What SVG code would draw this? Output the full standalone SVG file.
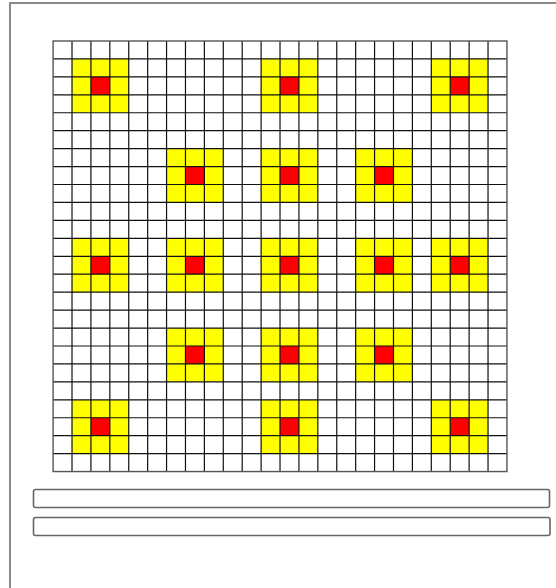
<svg xmlns="http://www.w3.org/2000/svg" xmlns:xlink="http://www.w3.org/1999/xlink" width="556" height="588" viewBox="0 0 556 588">
<style>
.frame{fill:#ffffff;stroke:#8a8a8a;stroke-width:2}
.bar{fill:#ffffff;stroke:#666666;stroke-width:1.6}
.yel{fill:#ffff00}
.red{fill:#ff0000}
.grid{fill:none;stroke:#111111;stroke-width:1.2}
.gborder{fill:none;stroke:#555555;stroke-width:1.4}
</style>
<defs>
<g id="patch">
<rect class="yel" x="0" y="0" width="56.73" height="53.82"/>
<rect class="red" x="18.91" y="17.94" width="18.91" height="17.94"/>
</g>
</defs>
<rect x="0" y="0" width="556" height="588" fill="#ffffff"/>
<rect class="frame" x="10" y="3" width="560" height="600"/>
<g id="patches">
<use xlink:href="#patch" x="72.01" y="58.94"/>
<use xlink:href="#patch" x="261.11" y="58.94"/>
<use xlink:href="#patch" x="431.30" y="58.94"/>
<use xlink:href="#patch" x="166.56" y="148.64"/>
<use xlink:href="#patch" x="261.11" y="148.64"/>
<use xlink:href="#patch" x="355.66" y="148.64"/>
<use xlink:href="#patch" x="72.01" y="238.34"/>
<use xlink:href="#patch" x="166.56" y="238.34"/>
<use xlink:href="#patch" x="261.11" y="238.34"/>
<use xlink:href="#patch" x="355.66" y="238.34"/>
<use xlink:href="#patch" x="431.30" y="238.34"/>
<use xlink:href="#patch" x="166.56" y="328.04"/>
<use xlink:href="#patch" x="261.11" y="328.04"/>
<use xlink:href="#patch" x="355.66" y="328.04"/>
<use xlink:href="#patch" x="72.01" y="399.80"/>
<use xlink:href="#patch" x="261.11" y="399.80"/>
<use xlink:href="#patch" x="431.30" y="399.80"/>
</g>
<g id="grid">
<path class="grid" d="M72.01 41V471.56M90.92 41V471.56M109.83 41V471.56M128.74 41V471.56M147.65 41V471.56M166.56 41V471.56M185.47 41V471.56M204.38 41V471.56M223.29 41V471.56M242.20 41V471.56M261.11 41V471.56M280.02 41V471.56M298.93 41V471.56M317.84 41V471.56M336.75 41V471.56M355.66 41V471.56M374.57 41V471.56M393.48 41V471.56M412.39 41V471.56M431.30 41V471.56M450.21 41V471.56M469.12 41V471.56M488.03 41V471.56"/>
<path class="grid" d="M53.1 58.94H506.94M53.1 76.88H506.94M53.1 94.82H506.94M53.1 112.76H506.94M53.1 130.70H506.94M53.1 148.64H506.94M53.1 166.58H506.94M53.1 184.52H506.94M53.1 202.46H506.94M53.1 220.40H506.94M53.1 238.34H506.94M53.1 256.28H506.94M53.1 274.22H506.94M53.1 292.16H506.94M53.1 310.10H506.94M53.1 328.04H506.94M53.1 345.98H506.94M53.1 363.92H506.94M53.1 381.86H506.94M53.1 399.80H506.94M53.1 417.74H506.94M53.1 435.68H506.94M53.1 453.62H506.94"/>
<rect class="gborder" x="53.1" y="41" width="453.84" height="430.56"/>
</g>
<g id="bars">
<rect class="bar" x="33.5" y="489.5" width="516" height="18" rx="2"/>
<rect class="bar" x="33.5" y="517.5" width="516.5" height="18" rx="2"/>
</g>
</svg>
